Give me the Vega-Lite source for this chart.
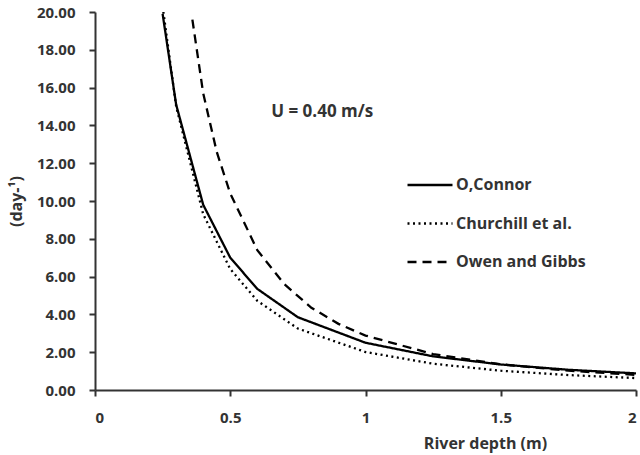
{
  "$schema": "https://vega.github.io/schema/vega-lite/v6.json",
  "width": 541,
  "height": 378,
  "autosize": {"type": "none"},
  "padding": {"left": 95, "top": 12, "right": 4, "bottom": 65},
  "background": "white",
  "config": {
    "view": {"stroke": null},
    "font": "Open Sans",
    "axis": {
      "labelFont": "Open Sans", "labelFontWeight": "bold", "labelFontSize": 15, "labelColor": "#333333",
      "titleFont": "Open Sans", "titleFontWeight": "bold", "titleFontSize": 16, "titleColor": "#333333",
      "domainColor": "#333333", "domainWidth": 2, "tickColor": "#333333", "tickWidth": 2, "tickSize": 6,
      "grid": false, "labelOverlap": false
    }
  },
  "datasets": {
    "curves": [
      {"d": 0.25, "k": 19.9, "m": "O,Connor"},
      {"d": 0.3, "k": 15.1, "m": "O,Connor"},
      {"d": 0.4, "k": 9.8, "m": "O,Connor"},
      {"d": 0.5, "k": 7.0, "m": "O,Connor"},
      {"d": 0.6, "k": 5.35, "m": "O,Connor"},
      {"d": 0.75, "k": 3.85, "m": "O,Connor"},
      {"d": 1.0, "k": 2.5, "m": "O,Connor"},
      {"d": 1.25, "k": 1.78, "m": "O,Connor"},
      {"d": 1.5, "k": 1.35, "m": "O,Connor"},
      {"d": 1.75, "k": 1.07, "m": "O,Connor"},
      {"d": 2.0, "k": 0.88, "m": "O,Connor"},
      {"d": 0.25, "k": 20.3, "m": "Churchill et al."},
      {"d": 0.3, "k": 15.0, "m": "Churchill et al."},
      {"d": 0.4, "k": 9.3, "m": "Churchill et al."},
      {"d": 0.5, "k": 6.4, "m": "Churchill et al."},
      {"d": 0.6, "k": 4.72, "m": "Churchill et al."},
      {"d": 0.75, "k": 3.25, "m": "Churchill et al."},
      {"d": 1.0, "k": 2.01, "m": "Churchill et al."},
      {"d": 1.25, "k": 1.39, "m": "Churchill et al."},
      {"d": 1.5, "k": 1.02, "m": "Churchill et al."},
      {"d": 1.75, "k": 0.79, "m": "Churchill et al."},
      {"d": 2.0, "k": 0.63, "m": "Churchill et al."},
      {"d": 0.36, "k": 19.6, "m": "Owen and Gibbs"},
      {"d": 0.4, "k": 15.7, "m": "Owen and Gibbs"},
      {"d": 0.45, "k": 12.6, "m": "Owen and Gibbs"},
      {"d": 0.5, "k": 10.4, "m": "Owen and Gibbs"},
      {"d": 0.6, "k": 7.4, "m": "Owen and Gibbs"},
      {"d": 0.7, "k": 5.6, "m": "Owen and Gibbs"},
      {"d": 0.8, "k": 4.35, "m": "Owen and Gibbs"},
      {"d": 0.9, "k": 3.5, "m": "Owen and Gibbs"},
      {"d": 1.0, "k": 2.88, "m": "Owen and Gibbs"},
      {"d": 1.25, "k": 1.9, "m": "Owen and Gibbs"},
      {"d": 1.5, "k": 1.36, "m": "Owen and Gibbs"},
      {"d": 1.75, "k": 1.02, "m": "Owen and Gibbs"},
      {"d": 2.0, "k": 0.8, "m": "Owen and Gibbs"}
    ],
    "note": [{"d": 0.84, "k": 14.7, "t": "U = 0.40 m/s"}]
  },
  "layer": [
    {
      "data": {"name": "curves"},
      "mark": {"type": "line", "color": "#000000", "strokeWidth": 2.3, "clip": true},
      "encoding": {
        "x": {
          "field": "d", "type": "quantitative",
          "scale": {"domain": [0, 2], "nice": false},
          "axis": {"values": [0, 0.5, 1, 1.5, 2], "tickCount": 5, "format": "~g", "labelPadding": 14, "title": "River depth (m)",
                   "titleX": 390, "titleY": 53, "titleAnchor": null, "titleAlign": "center", "titleBaseline": "middle"}
        },
        "y": {
          "field": "k", "type": "quantitative",
          "scale": {"domain": [0, 20], "nice": false},
          "axis": {"values": [0, 2, 4, 6, 8, 10, 12, 14, 16, 18, 20], "tickCount": 11, "format": ".2f", "labelPadding": 14,
                   "labelOverlap": false,
                   "title": "(day-¹)", "titleX": -79, "titleBaseline": "middle"}
        },
        "strokeDash": {
          "field": "m", "type": "nominal",
          "scale": {"domain": ["O,Connor", "Churchill et al.", "Owen and Gibbs"], "range": [[1, 0], [2, 3.5], [9, 6]]},
          "legend": {
            "title": null, "orient": "none", "legendX": 311, "legendY": 149, "padding": 0,
            "symbolType": "stroke", "symbolSize": 2025, "symbolStrokeWidth": 2.5, "symbolStrokeColor": "#000000",
            "labelFont": "Open Sans", "labelFontWeight": "bold", "labelFontSize": 16, "labelColor": "#333333",
            "labelOffset": 2, "rowPadding": 6.5
          }
        },
        "detail": {"field": "m"},
        "order": {"field": "d", "type": "quantitative"}
      }
    },
    {
      "data": {"name": "note"},
      "mark": {"type": "text", "font": "Open Sans", "fontWeight": "bold", "fontSize": 17, "color": "#333333", "align": "center", "baseline": "middle"},
      "encoding": {
        "x": {"field": "d", "type": "quantitative"},
        "y": {"field": "k", "type": "quantitative"},
        "text": {"field": "t"}
      }
    }
  ]
}
